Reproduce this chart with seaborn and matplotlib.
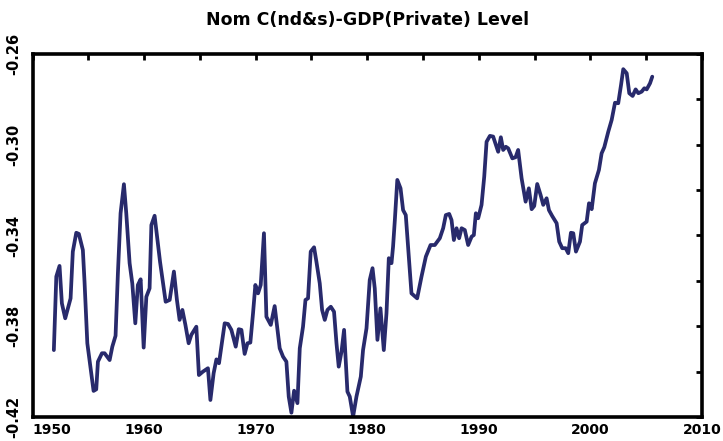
"""
Nom C(nd&s)-GDP(Private) Level als Linienplot (quartalsweise Werte, aus der Vorlage abgelesen).
"""

import numpy as np
import pandas as pd
import matplotlib.pyplot as plt
import seaborn as sns

# Jahr (Dezimal) der Knickpunkte
years = [
    1951.91, 1952.13, 1952.42, 1952.63, 1952.93, 1953.41, 1953.61, 1953.92, 1954.15, 1954.51,
    1954.66, 1954.91, 1955.26, 1955.47, 1955.71, 1955.86, 1956.22, 1956.46, 1956.91, 1957.15,
    1957.44, 1957.65, 1957.89, 1958.19, 1958.40, 1958.70, 1958.94, 1959.21, 1959.44, 1959.69,
    1959.96, 1960.20, 1960.49, 1960.65, 1960.94, 1961.43, 1961.93, 1962.29, 1962.67, 1962.94,
    1963.18, 1963.43, 1963.70, 1963.99, 1964.23, 1964.68, 1964.91, 1965.27, 1965.72, 1965.94,
    1966.23, 1966.48, 1966.71, 1967.22, 1967.52, 1967.82, 1968.21, 1968.48, 1968.72, 1969.01,
    1969.26, 1969.52, 1969.76, 1969.97, 1970.21, 1970.45, 1970.74, 1970.96, 1971.35, 1971.70,
    1972.15, 1972.45, 1972.75, 1972.96, 1973.20, 1973.44, 1973.74, 1973.95, 1974.24, 1974.46,
    1974.69, 1974.93, 1975.23, 1975.44, 1975.74, 1975.95, 1976.19, 1976.43, 1976.73, 1977.02,
    1977.24, 1977.44, 1977.69, 1977.92, 1978.22, 1978.43, 1978.73, 1979.03, 1979.42, 1979.62,
    1979.93, 1980.22, 1980.47, 1980.67, 1980.91, 1981.18, 1981.48, 1981.72, 1981.93, 1982.17,
    1982.31, 1982.47, 1982.69, 1982.98, 1983.21, 1983.45, 1983.96, 1984.47, 1984.86, 1985.25,
    1985.67, 1986.05, 1986.50, 1986.80, 1987.04, 1987.34, 1987.55, 1987.76, 1988.00, 1988.23,
    1988.45, 1988.74, 1989.04, 1989.35, 1989.55, 1989.73, 1989.94, 1990.24, 1990.48, 1990.69,
    1990.99, 1991.28, 1991.73, 1991.97, 1992.18, 1992.42, 1992.63, 1993.00, 1993.29, 1993.52,
    1993.83, 1994.19, 1994.48, 1994.73, 1994.96, 1995.23, 1995.53, 1995.77, 1996.07, 1996.28,
    1996.57, 1996.97, 1997.20, 1997.47, 1997.78, 1998.01, 1998.25, 1998.46, 1998.70, 1999.06,
    1999.26, 1999.66, 1999.87, 2000.11, 2000.40, 2000.76, 2001.00, 2001.24, 2001.60, 2001.90,
    2002.20, 2002.49, 2002.74, 2002.94, 2003.25, 2003.48, 2003.78, 2004.05, 2004.29, 2004.59,
    2004.83, 2005.04, 2005.34, 2005.54,
]

# Niveau (log-Verhältnis)
level = [
    -0.3905, -0.3581, -0.3534, -0.3699, -0.3765, -0.3677, -0.3471, -0.3388, -0.3393, -0.3464,
    -0.3604, -0.3875, -0.4007, -0.4085, -0.4078, -0.3956, -0.3919, -0.3919, -0.3949, -0.3890,
    -0.3842, -0.3567, -0.3302, -0.3174, -0.3302, -0.3522, -0.3611, -0.3787, -0.3618, -0.3593,
    -0.3894, -0.3670, -0.3633, -0.3354, -0.3313, -0.3517, -0.3692, -0.3684, -0.3559, -0.3684,
    -0.3772, -0.3728, -0.3794, -0.3875, -0.3838, -0.3802, -0.4015, -0.4000, -0.3985, -0.4125,
    -0.4007, -0.3946, -0.3963, -0.3787, -0.3790, -0.3816, -0.3890, -0.3813, -0.3816, -0.3922,
    -0.3875, -0.3872, -0.3743, -0.3618, -0.3655, -0.3618, -0.3390, -0.3758, -0.3794, -0.3711,
    -0.3897, -0.3934, -0.3956, -0.4110, -0.4181, -0.4084, -0.4139, -0.3897, -0.3802, -0.3684,
    -0.3677, -0.3471, -0.3452, -0.3515, -0.3611, -0.3728, -0.3772, -0.3728, -0.3714, -0.3736,
    -0.3875, -0.3978, -0.3912, -0.3816, -0.4088, -0.4110, -0.4198, -0.4110, -0.4022, -0.3905,
    -0.3809, -0.3596, -0.3544, -0.3633, -0.3860, -0.3721, -0.3905, -0.3743, -0.3500, -0.3522,
    -0.3449, -0.3332, -0.3155, -0.3192, -0.3288, -0.3310, -0.3655, -0.3677, -0.3581, -0.3493,
    -0.3442, -0.3442, -0.3412, -0.3368, -0.3310, -0.3305, -0.3332, -0.3420, -0.3368, -0.3412,
    -0.3368, -0.3376, -0.3442, -0.3405, -0.3398, -0.3302, -0.3324, -0.3265, -0.3141, -0.2987,
    -0.2961, -0.2964, -0.3031, -0.2967, -0.3023, -0.3009, -0.3016, -0.3060, -0.3055, -0.3023,
    -0.3148, -0.3251, -0.3192, -0.3284, -0.3270, -0.3173, -0.3221, -0.3265, -0.3236, -0.3288,
    -0.3314, -0.3346, -0.3427, -0.3456, -0.3456, -0.3478, -0.3388, -0.3390, -0.3471, -0.3427,
    -0.3354, -0.3339, -0.3258, -0.3284, -0.3170, -0.3111, -0.3038, -0.3011, -0.2942, -0.2891,
    -0.2815, -0.2817, -0.2737, -0.2667, -0.2685, -0.2773, -0.2785, -0.2756, -0.2773, -0.2766,
    -0.2751, -0.2756, -0.2729, -0.2700,
]

x_ticks = [1950, 1960, 1970, 1980, 1990, 2000, 2010]
y_ticks = [-0.42, -0.38, -0.34, -0.30, -0.26]
y_labels = ["-0.42", "-0.38", "-0.34", "-0.30", "-0.26"]

df = pd.DataFrame({"Jahr": years, "Niveau": level})

sns.set_theme(style="white")
plt.rcParams["font.family"] = ["DejaVu Sans"]
plt.rcParams["font.weight"] = "bold"
plt.rcParams["text.color"] = "black"
plt.rcParams["xtick.color"] = "black"
plt.rcParams["ytick.color"] = "black"

fig = plt.figure(figsize=(7.23, 4.41), dpi=100)
ax = fig.add_axes([0.045, 0.0544, 0.926, 0.8232])

sns.lineplot(data=df, x="Jahr", y="Niveau", color="#282a6c", linewidth=2.7, ax=ax)

ax.set_xlim(1950, 2010)
ax.set_ylim(-0.42, -0.26)
ax.set_xticks(x_ticks)
ax.set_xticks(np.arange(1955, 2010, 10), minor=True)
ax.set_yticks(y_ticks)
ax.set_yticks([-0.40, -0.36, -0.32, -0.28], minor=True)
ax.set_xticklabels([str(t) for t in x_ticks], fontsize=10, fontweight="bold", color="black")
ax.set_yticklabels(y_labels, fontsize=10.5, fontweight="bold", rotation=90, va="center",
                   color="black")
ax.get_xticklabels()[0].set_horizontalalignment("left")

ax.tick_params(which="both", direction="in", top=True, right=True,
               length=4, width=2, color="black")
ax.tick_params(axis="x", pad=4)
ax.tick_params(axis="y", pad=8)

for spine in ax.spines.values():
    spine.set_linewidth(2.6)
    spine.set_color("black")

ax.set_xlabel("")
ax.set_ylabel("")
ax.set_title("Nom C(nd&s)-GDP(Private) Level", fontsize=12.5, fontweight="bold",
             color="black", pad=21)

fig.savefig("out.png", dpi=100)
